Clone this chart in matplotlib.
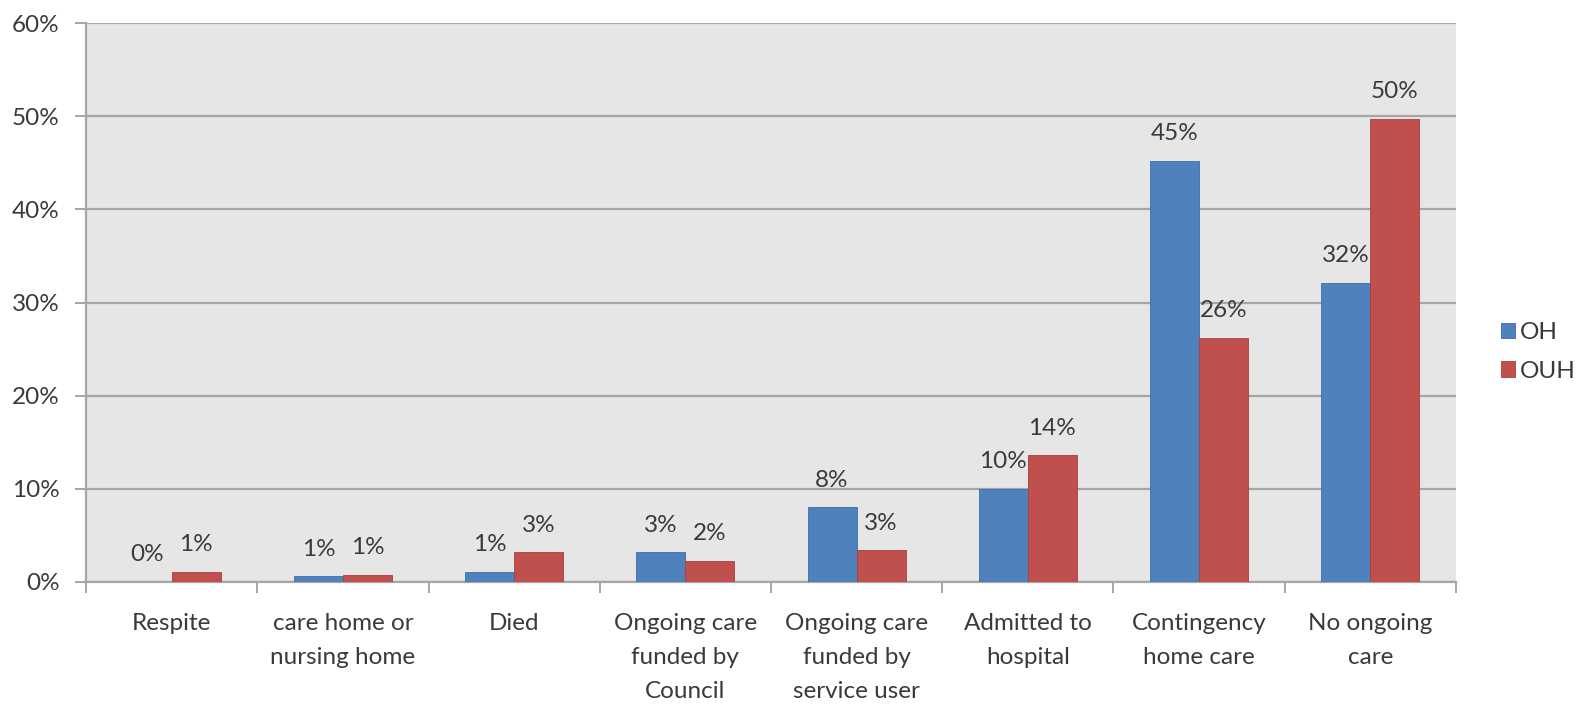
import matplotlib.pyplot as plt
import numpy as np

categories = ['Respite', 'care home or\nnursing home', 'Died',
              'Ongoing care\nfunded by\nCouncil', 'Ongoing care\nfunded by\nservice user',
              'Admitted to\nhospital', 'Contingency\nhome care', 'No ongoing\ncare']
oh = [0.0, 0.6, 1.1, 3.2, 8.0, 10.0, 45.2, 32.1]
ouh = [1.1, 0.8, 3.2, 2.3, 3.4, 13.6, 26.2, 49.7]
series_names = ['OH', 'OUH']

plt.rcParams['font.family'] = ['Lato', 'DejaVu Sans']
text_col = '#3a3a3a'
grid_col = '#a6a6a6'
fs = 17.5

fig = plt.figure(figsize=(15.79, 7.04), dpi=100)
ax = fig.add_axes([0.0545, 0.1733, 0.8675, 0.7937])
ax.set_facecolor('#e6e6e6')

x = np.arange(len(categories))
w = 0.286
b1 = ax.bar(x - w / 2, oh, w, color='#4f81bd', edgecolor='#3c6ea8', linewidth=0.6, label=series_names[0], zorder=3)
b2 = ax.bar(x + w / 2, ouh, w, color='#c0504d', edgecolor='#a8403d', linewidth=0.6, label=series_names[1], zorder=3)

# etiquetas de datos encima de cada barra
for bars, vals in ((b1, oh), (b2, ouh)):
    ax.bar_label(bars, labels=['%d%%' % round(v) for v in vals], padding=12,
                 fontsize=fs, color=text_col)

ax.set_ylim(0, 60)
ax.set_xlim(-0.5, len(categories) - 0.5)
ax.set_yticks(range(0, 61, 10))
ax.set_yticklabels(['%d%%' % v for v in range(0, 61, 10)])
ax.yaxis.grid(True, color=grid_col, linewidth=1.6, zorder=0)
ax.set_axisbelow(True)

ax.set_xticks(x)
ax.set_xticklabels(categories)
ax.set_xticks(np.arange(-0.5, len(categories), 1), minor=True)
ax.tick_params(axis='x', which='major', length=0, pad=22, labelsize=fs, labelcolor=text_col)
ax.tick_params(axis='x', which='minor', length=8, width=1.4, color=grid_col)
ax.tick_params(axis='y', length=8, width=1.4, color=grid_col, labelsize=fs, labelcolor=text_col, pad=11)
for lbl in ax.get_xticklabels():
    lbl.set_linespacing(1.78)
    lbl.set_verticalalignment('top')

for s in ('top', 'right'):
    ax.spines[s].set_visible(False)
for s in ('left', 'bottom'):
    ax.spines[s].set_color(grid_col)
    ax.spines[s].set_linewidth(1.6)

leg = ax.legend(loc='center left', bbox_to_anchor=(1.022, 0.412), frameon=False,
                fontsize=fs, handlelength=0.6, handleheight=0.6, handletextpad=0.2,
                labelspacing=0.72, labelcolor=text_col, borderaxespad=0.2)

fig.savefig('out.png', dpi=100)
